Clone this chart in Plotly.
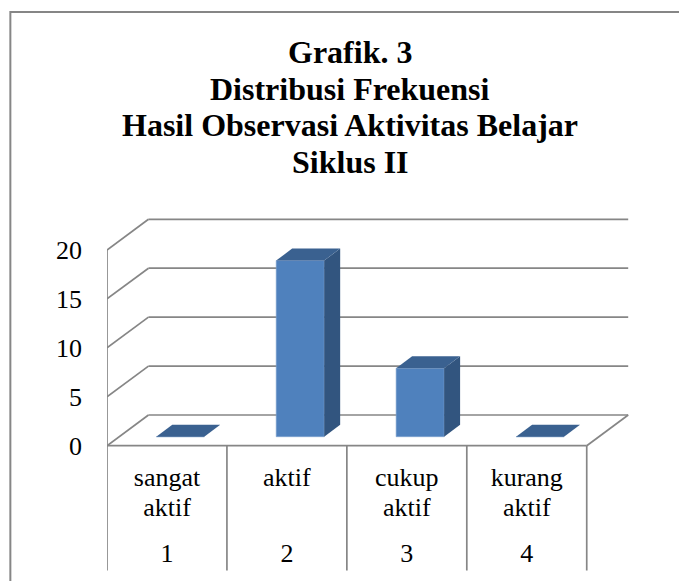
import plotly.graph_objects as go

TITLE_LINES = ["Grafik. 3", "Distribusi Frekuensi", "Hasil Observasi Aktivitas Belajar", "Siklus II"]
CATEGORY_LINE_1 = ["sangat", "aktif", "cukup", "kurang"]
CATEGORY_LINE_2 = ["aktif", "", "aktif", "aktif"]
CATEGORY_NUMBERS = [1, 2, 3, 4]
VALUES = [0, 18, 7, 0]
Y_TICKS = [0, 5, 10, 15, 20]

FONT = "Liberation Serif"
GRID = "#868686"
LW = 1.7
W, H = 679, 581
L, R, T, B = 106.7, 45, 210, 6
Y_ZERO_PX = 445.7
PX_X = 120.0                # pixels per category
PX_Y = 195.7 / 20           # pixels per value unit
X0 = 0.5
X1 = X0 + (W - L - R) / PX_X
Y1 = (Y_ZERO_PX - T) / PX_Y
Y_MIN = -(H - B - Y_ZERO_PX) / PX_Y
DEPTH_X, DEPTH_Y = 41.5 / PX_X, 30.7 / PX_Y
BAR_W = 0.4
BAR_DX, BAR_DY = 13.3 / PX_X, 9.0 / PX_Y
SIDE_X, SIDE_Y = 16.0 / PX_X, 12.0 / PX_Y
X_END = 4.5
BELOW = -(570.5 - Y_ZERO_PX) / PX_Y


def paper_x(px):
    return (px - L) / (W - L - R)


def paper_y(px):
    return 1 - (px - T) / (H - T - B)


fig = go.Figure()


def poly(xs, ys, color):
    fig.add_trace(go.Scatter(x=xs, y=ys, mode="lines", fill="toself", fillcolor=color,
                             line=dict(width=0, color=color), hoverinfo="skip", showlegend=False))


def line(xs, ys):
    fig.add_trace(go.Scatter(x=xs, y=ys, mode="lines", line=dict(color=GRID, width=LW),
                             cliponaxis=False, hoverinfo="skip", showlegend=False))


# front faces
fig.add_trace(go.Bar(x=[c + BAR_DX for c in CATEGORY_NUMBERS], y=VALUES, base=BAR_DY, width=BAR_W,
                     marker=dict(color="#4F81BD", line=dict(color="#7FA3D0", width=0.6)),
                     showlegend=False, hovertemplate="%{y}<extra></extra>"))

# side and top faces
for c, v in zip(CATEGORY_NUMBERS, VALUES):
    xl, xr = c + BAR_DX - BAR_W / 2, c + BAR_DX + BAR_W / 2
    y0, y1 = BAR_DY, BAR_DY + v
    if v > 0:
        poly([xr, xr + SIDE_X, xr + SIDE_X, xr, xr], [y0, y0 + SIDE_Y, y1 + SIDE_Y, y1, y0], "#32557F")
    poly([xl, xr, xr + SIDE_X, xl + SIDE_X, xl], [y1, y1, y1 + SIDE_Y, y1 + SIDE_Y, y1], "#3A6190")

# back wall and floor grid, below the bars
shapes = []
for t in Y_TICKS:
    shapes.append(dict(type="line", xref="x", yref="y", layer="below", x0=X0, y0=t,
                       x1=X0 + DEPTH_X, y1=t + DEPTH_Y, line=dict(color=GRID, width=LW)))
    shapes.append(dict(type="line", xref="x", yref="y", layer="below", x0=X0 + DEPTH_X, y0=t + DEPTH_Y,
                       x1=X_END + DEPTH_X, y1=t + DEPTH_Y, line=dict(color=GRID, width=LW)))
# chart border: left and top edges only show in the crop
shapes.append(dict(type="path", xref="paper", yref="paper",
                   path="M %f %f L %f %f L %f %f" % (
                       paper_x(10), paper_y(H + 5), paper_x(10), paper_y(12), paper_x(W + 5), paper_y(12)),
                   line=dict(color=GRID, width=2)))

# front floor edge, floor right edge, value axis, category dividers
line([X0, X_END], [0, 0])
line([X_END, X_END + DEPTH_X], [0, DEPTH_Y])
line([X0, X0], [BELOW, 20])
for c in CATEGORY_NUMBERS:
    line([c + 0.5, c + 0.5], [BELOW, 0])

annotations = [dict(xref="paper", yref="paper", x=paper_x(350), y=paper_y(yc),
                    text="<b>%s</b>" % s, showarrow=False, xanchor="center", yanchor="middle",
                    font=dict(family=FONT, size=32, color="#000000"))
               for s, yc in zip(TITLE_LINES, [52, 89, 125, 162])]

TICK_FONT = dict(family=FONT, size=26, color="#000000")


def cat_axis(labels, standoff, **extra):
    return dict(range=[X0, X1], tickmode="array", tickvals=CATEGORY_NUMBERS, ticktext=labels,
                showgrid=False, zeroline=False, showline=False, ticks="", anchor="free",
                position=paper_y(Y_ZERO_PX), side="bottom", ticklabelstandoff=standoff,
                tickfont=TICK_FONT, **extra)


fig.update_layout(
    width=W, height=H, paper_bgcolor="white", plot_bgcolor="white", showlegend=False,
    margin=dict(l=L, r=R, t=T, b=B, autoexpand=False), shapes=shapes, annotations=annotations,
    xaxis=cat_axis(CATEGORY_LINE_1, 13),
    xaxis2=cat_axis(CATEGORY_LINE_2, 43, overlaying="x"),
    xaxis3=cat_axis([str(n) for n in CATEGORY_NUMBERS], 89, overlaying="x"),
    yaxis=dict(range=[Y_MIN, Y1], tickmode="array", tickvals=Y_TICKS, showgrid=False, zeroline=False,
               showline=False, ticks="", ticklabelstandoff=24, tickfont=TICK_FONT),
)
for ax in ("x2", "x3"):
    fig.add_trace(go.Scatter(x=CATEGORY_NUMBERS, y=[0, 0, 0, 0], xaxis=ax, mode="markers",
                             marker=dict(opacity=0), hoverinfo="skip", showlegend=False))

fig.write_html("out.html", config=dict(displayModeBar=False),
               post_script="document.body.style.margin='0';document.documentElement.style.overflow='hidden';")
